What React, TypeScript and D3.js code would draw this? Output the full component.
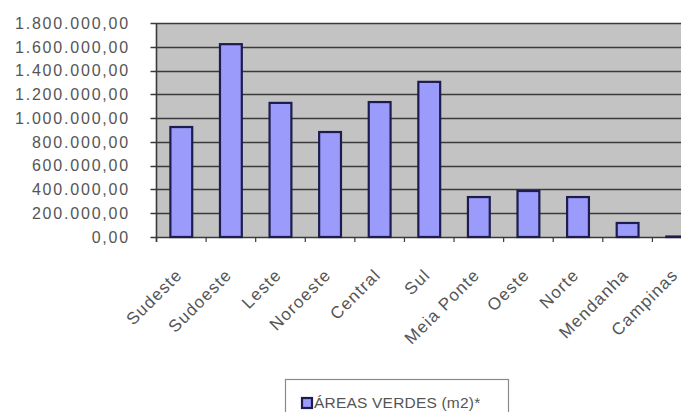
import React from "react";
import * as d3 from "d3";

const categories = ["Sudeste", "Sudoeste", "Leste", "Noroeste", "Central", "Sul", "Meia Ponte", "Oeste", "Norte", "Mendanha", "Campinas"];
const values = [925000, 1622000, 1128000, 883000, 1135000, 1305000, 336000, 387000, 336000, 118000, 4000];
const yTicks = [0, 200000, 400000, 600000, 800000, 1000000, 1200000, 1400000, 1600000, 1800000];
const seriesName = "ÁREAS VERDES (m2)*";

const W = 681;
const H = 412;
const left = 156.5;
const right = 702;
const top = 23;
const bottom = 237;

const locale = d3.formatLocale({ decimal: ",", thousands: ".", grouping: [3], currency: ["", ""] });
const fmt = locale.format(",.2f");

export default function App() {
  const x = d3.scaleBand<string>().domain(categories).range([left, right]).paddingInner(0.56).paddingOuter(0.28);
  const y = d3.scaleLinear().domain([0, 1800000]).range([bottom, top]);
  const step = x.step();
  const font = "Arial, 'Liberation Sans', sans-serif";
  const textColor = "#555";

  return (
    <svg width={W} height={H} style={{ position: "absolute", left: 0, top: 0, background: "#fff" }}>
      <rect x={left} y={top} width={right - left} height={bottom - top} fill="#c3c3c3" />
      {yTicks.map((t) => (
        <g key={t}>
          <line x1={left - 6} x2={right} y1={Math.round(y(t)) + 0.5} y2={Math.round(y(t)) + 0.5} stroke="#3a3a3a" strokeWidth={1.5} />
          <text x={130} y={y(t)} dy="0.36em" textAnchor="end" fontFamily={font} fontSize={16} letterSpacing={1.8} fill={textColor}>
            {fmt(t)}
          </text>
        </g>
      ))}
      {categories.map((c, i) => (
        <line key={"tk" + c} x1={left + i * step} x2={left + i * step} y1={bottom} y2={bottom + 5} stroke="#3a3a3a" strokeWidth={1.2} />
      ))}
      <line x1={left} x2={left} y1={top} y2={bottom + 5} stroke="#3a3a3a" strokeWidth={1.6} />
      {categories.map((c, i) => (
        <rect
          key={c}
          x={x(c)!}
          y={y(values[i])}
          width={x.bandwidth()}
          height={bottom - y(values[i])}
          fill="#9b9bfb"
          stroke="#1c1c4e"
          strokeWidth={2.2}
        />
      ))}
      {categories.map((c) => (
        <text
          key={"lb" + c}
          transform={`translate(${x(c)! + x.bandwidth() / 2 + 2},${276}) rotate(-45)`}
          textAnchor="end"
          fontFamily={font}
          fontSize={17}
          letterSpacing={1.2}
          fill={textColor}
        >
          {c}
        </text>
      ))}
      <rect x={285.5} y={379.5} width={223} height={50} fill="#fff" stroke="#8a8a8a" strokeWidth={1.2} />
      <rect x={302} y={398} width={10} height={10} fill="#9b9bfb" stroke="#1c1c4e" strokeWidth={2.2} />
      <text x={314} y={408} fontFamily={font} fontSize={15.5} letterSpacing={0.2} fill={textColor}>
        {seriesName}
      </text>
    </svg>
  );
}
